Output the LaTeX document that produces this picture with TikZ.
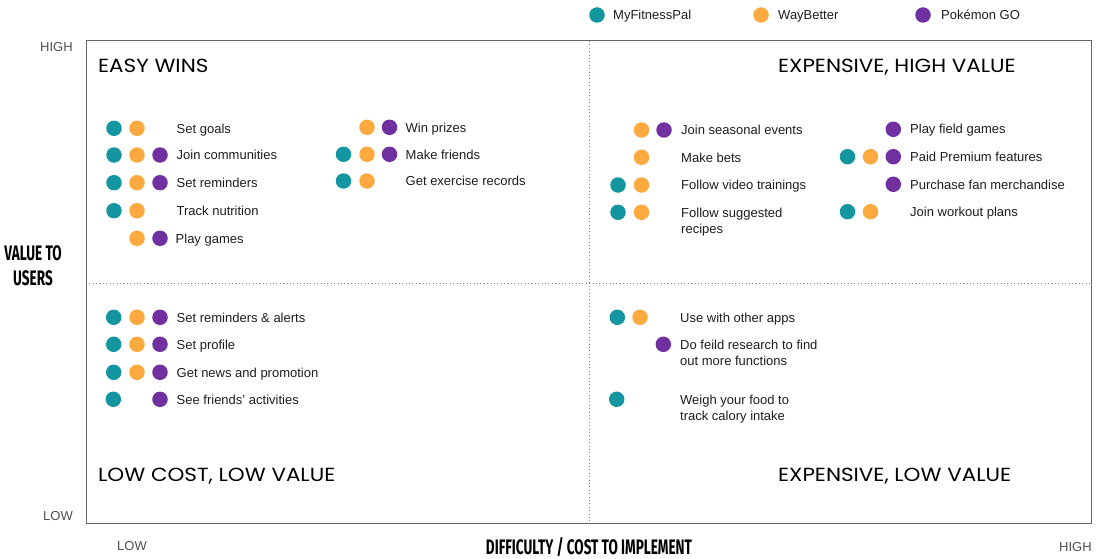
\documentclass[tikz,border=0pt]{standalone}
\usepackage{fontspec}
\setmainfont{Liberation Sans}
\newfontfamily\titlefont[FakeStretch=1.13]{Poppins}
\newfontfamily\axisfont[FakeStretch=0.645]{Fira Sans}

\definecolor{mfp}{RGB}{20,150,160}
\definecolor{wbt}{RGB}{252,170,64}
\definecolor{pgo}{RGB}{112,48,160}
\definecolor{ink}{RGB}{30,30,30}
\definecolor{axisgray}{RGB}{80,80,80}
\definecolor{framegray}{RGB}{100,100,100}

\begin{document}
\begin{tikzpicture}[x=1pt,y=-1pt,
  dot/.style={circle,inner sep=0pt,minimum size=15.5pt,draw=none},
  lbl/.style={anchor=west,inner sep=0pt,text height=9.4pt,text depth=0pt,
    font=\fontsize{13}{16.5}\selectfont,text=ink},
  lbltwo/.style={anchor=north west,inner sep=0pt,align=left,
    font=\fontsize{13}{16.5}\selectfont,text=ink},
  quadtitle/.style={anchor=west,inner sep=0pt,text height=13pt,text depth=0pt,
    font=\titlefont\fontsize{19}{19}\selectfont,text=black},
  tick/.style={anchor=west,inner sep=0pt,text height=9.4pt,text depth=0pt,
    font=\fontsize{13}{13}\selectfont,text=axisgray},
  axislbl/.style={inner sep=0pt,font=\axisfont\bfseries\fontsize{21}{24.5}\selectfont,text=black},
  frame/.style={draw=framegray,line width=1pt},
  divider/.style={draw=gray,line width=0.8pt,dash pattern=on 0.8pt off 2.6pt}]

\useasboundingbox (0,0) rectangle (1097,559);
\fill[white] (0,0) rectangle (1097,559);

% chart frame and quadrant dividers
\coordinate (nw) at (86,41);
\coordinate (se) at (1091,523);
\coordinate (vtop) at (589,41);
\coordinate (vbot) at (589,523);
\coordinate (hleft) at (86,283);
\coordinate (hright) at (1091,283);
\draw[divider] (vtop) -- (vbot);
\draw[divider] (hleft) -- (hright);
\draw[frame] (nw) rectangle (se);

% legend
\node[dot,fill=mfp] (legT) at (597,15) {};
\node[lbl,anchor=west] (legTt) at (613,15) {MyFitnessPal};
\node[dot,fill=wbt] (legO) at (761,15) {};
\node[lbl] (legOt) at (778,15) {WayBetter};
\node[dot,fill=pgo] (legP) at (923,15) {};
\node[lbl] (legPt) at (941,15) {Pokémon GO};

% axis captions
\node[tick] (yhigh) at (40,47) {HIGH};
\node[tick] (ylow) at (43,516) {LOW};
\node[tick] (xlow) at (117,546) {LOW};
\node[tick] (xhigh) at (1059,547) {HIGH};
\node[axislbl,align=center] (yaxis) at (33,265.5) {VALUE TO\\USERS};
\node[axislbl,text height=14.5pt,text depth=0pt] (xaxis) at (589,547) {DIFFICULTY / COST TO IMPLEMENT};

% quadrant titles
\node[quadtitle] (qEasy) at (98,66) {EASY WINS};
\node[quadtitle] (qExpHigh) at (778,66) {EXPENSIVE, HIGH VALUE};
\node[quadtitle] (qLowLow) at (98,475) {LOW COST, LOW VALUE};
\node[quadtitle] (qExpLow) at (778,475) {EXPENSIVE, LOW VALUE};

% easy wins, first column
\node[dot,fill=mfp] (e1t) at (114,128.3) {};
\node[dot,fill=wbt] (e1o) at (137,128.3) {};
\node[lbl] (e1) at (176.5,128.3) {Set goals};
\node[dot,fill=mfp] (e2t) at (114,155) {};
\node[dot,fill=wbt] (e2o) at (137,155) {};
\node[dot,fill=pgo] (e2p) at (160,155) {};
\node[lbl] (e2) at (176.5,155) {Join communities};
\node[dot,fill=mfp] (e3t) at (114,182.7) {};
\node[dot,fill=wbt] (e3o) at (137,182.7) {};
\node[dot,fill=pgo] (e3p) at (160,182.7) {};
\node[lbl] (e3) at (176.5,182.7) {Set reminders};
\node[dot,fill=mfp] (e4t) at (114,210.7) {};
\node[dot,fill=wbt] (e4o) at (137,210.7) {};
\node[lbl] (e4) at (176.5,210.7) {Track nutrition};
\node[dot,fill=wbt] (e5o) at (137,238.3) {};
\node[dot,fill=pgo] (e5p) at (160,238.3) {};
\node[lbl] (e5) at (175.5,238.3) {Play games};

% easy wins, second column
\node[dot,fill=wbt] (e6o) at (367,127.3) {};
\node[dot,fill=pgo] (e6p) at (389.5,127.3) {};
\node[lbl] (e6) at (405.5,127.3) {Win prizes};
\node[dot,fill=mfp] (e7t) at (343.5,154.3) {};
\node[dot,fill=wbt] (e7o) at (367,154.3) {};
\node[dot,fill=pgo] (e7p) at (389.5,154.3) {};
\node[lbl] (e7) at (405.5,154.3) {Make friends};
\node[dot,fill=mfp] (e8t) at (343.5,181) {};
\node[dot,fill=wbt] (e8o) at (367,181) {};
\node[lbl] (e8) at (405.5,181) {Get exercise records};

% expensive, high value, first column
\node[dot,fill=wbt] (h1o) at (641.5,130) {};
\node[dot,fill=pgo] (h1p) at (664,130) {};
\node[lbl] (h1) at (681,130) {Join seasonal events};
\node[dot,fill=wbt] (h2o) at (641.5,157.3) {};
\node[lbl] (h2) at (681,157.3) {Make bets};
\node[dot,fill=mfp] (h3t) at (618,185) {};
\node[dot,fill=wbt] (h3o) at (641.5,185) {};
\node[lbl] (h3) at (681,185) {Follow video trainings};
\node[dot,fill=mfp] (h4t) at (618,212.3) {};
\node[dot,fill=wbt] (h4o) at (641.5,212.3) {};
\node[lbltwo] (h4) at (681,207.6) {Follow suggested\\recipes};

% expensive, high value, second column
\node[dot,fill=pgo] (h5p) at (893.3,129.3) {};
\node[lbl] (h5) at (910,129.3) {Play field games};
\node[dot,fill=mfp] (h6t) at (847.5,156.7) {};
\node[dot,fill=wbt] (h6o) at (870.5,156.7) {};
\node[dot,fill=pgo] (h6p) at (893.3,156.7) {};
\node[lbl] (h6) at (910,156.7) {Paid Premium features};
\node[dot,fill=pgo] (h7p) at (893.3,184.3) {};
\node[lbl] (h7) at (910,184.3) {Purchase fan merchandise};
\node[dot,fill=mfp] (h8t) at (847.5,211.7) {};
\node[dot,fill=wbt] (h8o) at (870.5,211.7) {};
\node[lbl] (h8) at (910,211.7) {Join workout plans};

% low cost, low value
\node[dot,fill=mfp] (l1t) at (113.7,317.3) {};
\node[dot,fill=wbt] (l1o) at (137,317.3) {};
\node[dot,fill=pgo] (l1p) at (160,317.3) {};
\node[lbl] (l1) at (176.5,317.3) {Set reminders \& alerts};
\node[dot,fill=mfp] (l2t) at (113.7,344.3) {};
\node[dot,fill=wbt] (l2o) at (137,344.3) {};
\node[dot,fill=pgo] (l2p) at (160,344.3) {};
\node[lbl] (l2) at (176.5,344.3) {Set profile};
\node[dot,fill=mfp] (l3t) at (113.7,372.3) {};
\node[dot,fill=wbt] (l3o) at (137,372.3) {};
\node[dot,fill=pgo] (l3p) at (160,372.3) {};
\node[lbl] (l3) at (176.5,372.3) {Get news and promotion};
\node[dot,fill=mfp] (l4t) at (113.3,399.3) {};
\node[dot,fill=pgo] (l4p) at (160,399.3) {};
\node[lbl] (l4) at (176.5,399.3) {See friends' activities};

% expensive, low value
\node[dot,fill=mfp] (x1t) at (617.3,317.3) {};
\node[dot,fill=wbt] (x1o) at (640,317.3) {};
\node[lbl] (x1) at (680,317.3) {Use with other apps};
\node[dot,fill=pgo] (x2p) at (663.3,344.3) {};
\node[lbltwo] (x2) at (680,339.6) {Do feild research to find\\out more functions};
\node[dot,fill=mfp] (x3t) at (616.7,399.3) {};
\node[lbltwo] (x3) at (680,394.6) {Weigh your food to\\track calory intake};

\end{tikzpicture}
\end{document}
